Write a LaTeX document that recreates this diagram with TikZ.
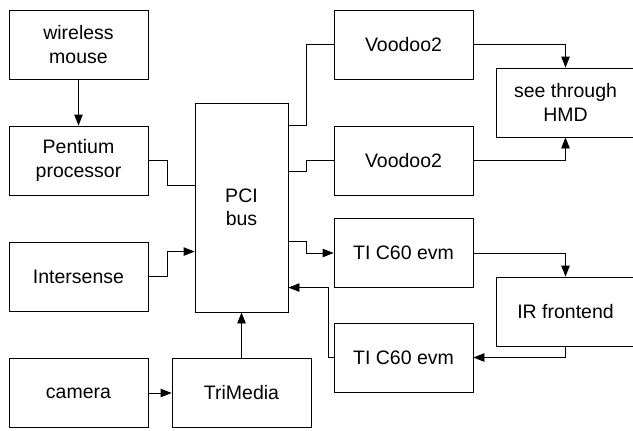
\documentclass[tikz,border=0pt]{standalone}
\usepackage{fontspec}
\setmainfont{Liberation Sans}
\usetikzlibrary{arrows.meta,calc}
\begin{document}
\begin{tikzpicture}[x=1pt,y=-1pt,
  box/.style={draw=black,line width=0.9pt,minimum width=139pt,minimum height=69pt,inner sep=0pt,align=center,font=\fontsize{19.5}{23.5}\selectfont},
  wire/.style={draw=black,line width=0.9pt},
  arr/.style={wire,-{Triangle[length=11pt,width=8.5pt]}}]
\useasboundingbox (0,0) rectangle (633,431);
\node[box] (wm) at (78.5,44.5) {wireless\\mouse};
\node[box] (pent) at (78.5,160.5) {Pentium\\processor};
\node[box] (inter) at (78.5,276.5) {Intersense};
\node[box] (cam) at (78.5,393) {camera};
\node[box] (tri) at (241.5,393) {TriMedia};
\node[box,minimum width=93pt,minimum height=209pt] (pci) at (241.5,207.5) {PCI\\bus};
\node[box] (vA) at (403.5,44.5) {Voodoo2};
\node[box] (vB) at (403.5,160.5) {Voodoo2};
\node[box] (hmd) at (565.5,102.5) {see through\\HMD};
\node[box] (tiA) at (403.5,253) {TI C60 evm};
\node[box] (ir) at (565.5,311.5) {IR frontend};
\node[box] (tiB) at (403.5,357.5) {TI C60 evm};

\draw[arr] (wm.south) -- (pent.north);
\draw[wire] (pent.east) -- ++(19,0) |- ($(pci.north west)+(0,83)$);
\draw[arr] (inter.east) -- ++(19,0) |- ($(pci.north west)+(0,149)$);
\draw[arr] (cam.east) -- (tri.west);
\draw[arr] (tri.north) -- (pci.south);
\draw[wire] ($(pci.north east)+(0,23)$) -- ++(18,0) |- (vA.west);
\draw[wire] ($(pci.north east)+(0,69)$) -- ++(18,0) |- (vB.west);
\draw[arr] (vA.east) -| (hmd.north);
\draw[arr] (vB.east) -| (hmd.south);
\draw[arr] ($(pci.north east)+(0,139)$) -- ++(18,0) |- (tiA.west);
\draw[arr] (tiA.east) -| (ir.north);
\draw[arr] (ir.south) |- (tiB.east);
\draw[arr] (tiB.west) -- ++(-5,0) |- ($(pci.north east)+(0,185)$);
\end{tikzpicture}
\end{document}
